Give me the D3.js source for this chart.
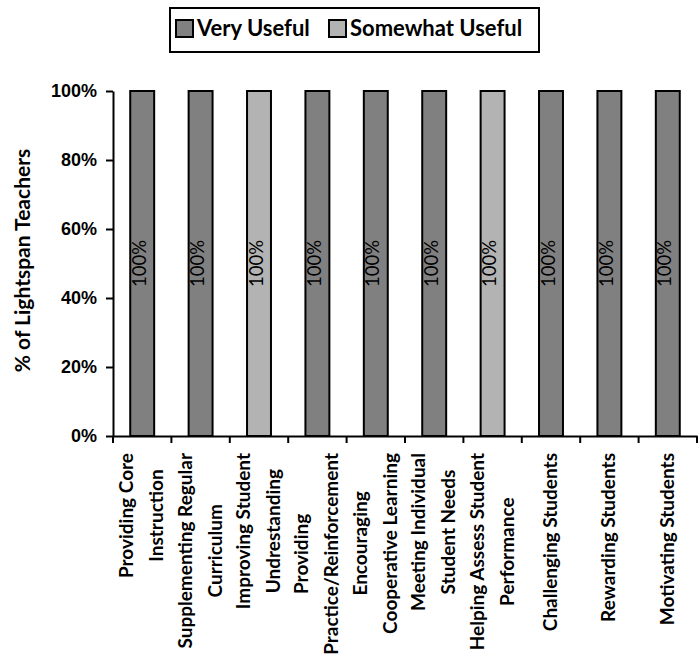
<!DOCTYPE html>
<html>
<head>
<meta charset="utf-8">
<script src="https://cdn.jsdelivr.net/npm/d3@7"></script>
<style>
  body { margin: 0; background: #fff; }
  svg { font-family: Lato, "Open Sans", sans-serif; }
</style>
</head>
<body>
<div id="chart"></div>
<script>
(function () {

// categories, each label split into its lines like in the original
const categories = [
  ["Providing Core", "Instruction"],
  ["Supplementing Regular", "Curriculum"],
  ["Improving Student", "Undrestanding"],
  ["Providing", "Practice/Reinforcement"],
  ["Encouraging", "Cooperative Learning"],
  ["Meeting Individual", "Student Needs"],
  ["Helping Assess Student", "Performance"],
  ["Challenging Students"],
  ["Rewarding Students"],
  ["Motivating Students"]
];

const seriesNames = ["Very Useful", "Somewhat Useful"];
const veryUseful     = [1, 1, 0, 1, 1, 1, 0, 1, 1, 1];
const somewhatUseful = [0, 0, 1, 0, 0, 0, 1, 0, 0, 0];
const yTicks = [0, 0.2, 0.4, 0.6, 0.8, 1];

const width = 700, height = 666;
const plot = {left: 113, right: 697, top: 91, bottom: 436};

const svg = d3.select("#chart").append("svg")
    .attr("width", width)
    .attr("height", height);

// table for the stack
const keys = categories.map(d => d.join(" "));
const table = keys.map((k, i) => ({
  cat: k,
  "Very Useful": veryUseful[i],
  "Somewhat Useful": somewhatUseful[i]
}));

const series = d3.stack().keys(seriesNames)(table);

const x = d3.scaleBand()
    .domain(keys)
    .range([plot.left, plot.right])
    .paddingInner(0.59)
    .paddingOuter(0.295);

const y = d3.scaleLinear()
    .domain([0, 1])
    .range([plot.bottom, plot.top]);

const color = d3.scaleOrdinal()
    .domain(seriesNames)
    .range(["#808080", "#b3b3b3"]);

// bars
const groups = svg.append("g")
  .selectAll("g")
  .data(series)
  .join("g")
    .attr("fill", d => color(d.key));

groups.selectAll("rect")
  .data(D => D.filter(d => d[1] - d[0] > 0))
  .join("rect")
    .attr("x", d => x(d.data.cat))
    .attr("y", d => y(d[1]))
    .attr("width", x.bandwidth())
    .attr("height", d => y(d[0]) - y(d[1]))
    .attr("stroke", "#000")
    .attr("stroke-width", 2);

// value labels inside the bars, turned on their side
groups.selectAll("text")
  .data(D => D.filter(d => d[1] - d[0] > 0))
  .join("text")
    .attr("transform", d => `translate(${x(d.data.cat) + x.bandwidth() / 2 + 3.5},${(y(d[0]) + y(d[1])) / 2}) rotate(-90)`)
    .attr("text-anchor", "middle")
    .attr("fill", "#000")
    .style("font-size", "18.5px")
    .text(d => d3.format(".0%")(d[1] - d[0]));

// y axis
svg.append("g")
    .attr("transform", `translate(${plot.left},0)`)
    .call(d3.axisLeft(y).tickValues(yTicks).tickFormat(d3.format(".0%")).tickSize(7).tickPadding(9).tickSizeOuter(0))
    .call(g => g.selectAll("path, line").attr("stroke", "#000").attr("stroke-width", 2))
    .call(g => g.selectAll("text").attr("fill", "#000")
        .style("font-size", "18px").style("font-weight", "bold"));

// x axis: line plus ticks between the categories
const step = x.step();
const bounds = keys.map(k => x(k) + x.bandwidth() / 2 - step / 2)
  .concat([x(keys[keys.length - 1]) + x.bandwidth() / 2 + step / 2]);

svg.append("g")
    .attr("transform", `translate(0,${plot.bottom})`)
    .call(d3.axisBottom(x).tickSize(0).tickFormat("").tickSizeOuter(0))
    .call(g => g.select(".domain").attr("stroke", "#000").attr("stroke-width", 2))
  .selectAll(".bound")
  .data(bounds)
  .join("line")
    .attr("x1", d => d).attr("x2", d => d)
    .attr("y1", 0).attr("y2", 7)
    .attr("stroke", "#000")
    .attr("stroke-width", 2);

// category labels, rotated, lines centred in their block
const lineGap = 30, capH = 14, labelTop = 453;
const labels = svg.append("g")
  .selectAll("text")
  .data(categories)
  .join("text")
    .style("font-size", "19px")
    .style("font-weight", "bold")
    .attr("fill", "#000")
    .attr("text-anchor", "middle");

labels.each(function (lines, i) {
  const t = d3.select(this);
  lines.forEach((line, j) => {
    t.append("tspan")
      .attr("x", 0)
      .attr("y", capH / 2 - (lines.length - 1) * lineGap / 2 + j * lineGap - 1)
      .text(line);
  });
  // longest line sets the block length
  let maxLen = 0;
  t.selectAll("tspan").each(function () { maxLen = Math.max(maxLen, this.getComputedTextLength()); });
  const cx = x(keys[i]) + x.bandwidth() / 2;
  t.attr("transform", `translate(${cx},${labelTop + maxLen / 2}) rotate(-90)`);
});

// y axis title
svg.append("text")
    .attr("transform", `translate(30,${(plot.top + plot.bottom) / 2 - 3}) rotate(-90)`)
    .attr("text-anchor", "middle")
    .style("font-size", "21px")
    .style("font-weight", "bold")
    .text("% of Lightspan Teachers");

// legend
const legend = svg.append("g");
legend.append("rect")
    .attr("x", 170).attr("y", 8)
    .attr("width", 369).attr("height", 44)
    .attr("fill", "#fff")
    .attr("stroke", "#000")
    .attr("stroke-width", 2);

const legendX = [176, 329];
const items = legend.selectAll(".item")
  .data(seriesNames)
  .join("g")
    .attr("transform", (d, i) => `translate(${legendX[i]},20)`);

items.append("rect")
    .attr("width", 17).attr("height", 17)
    .attr("fill", d => color(d))
    .attr("stroke", "#000")
    .attr("stroke-width", 2);

items.append("text")
    .attr("x", 21).attr("y", 16)
    .style("font-size", "22px")
    .style("font-weight", "bold")
    .text(d => d);

})()
</script>
</body>
</html>
